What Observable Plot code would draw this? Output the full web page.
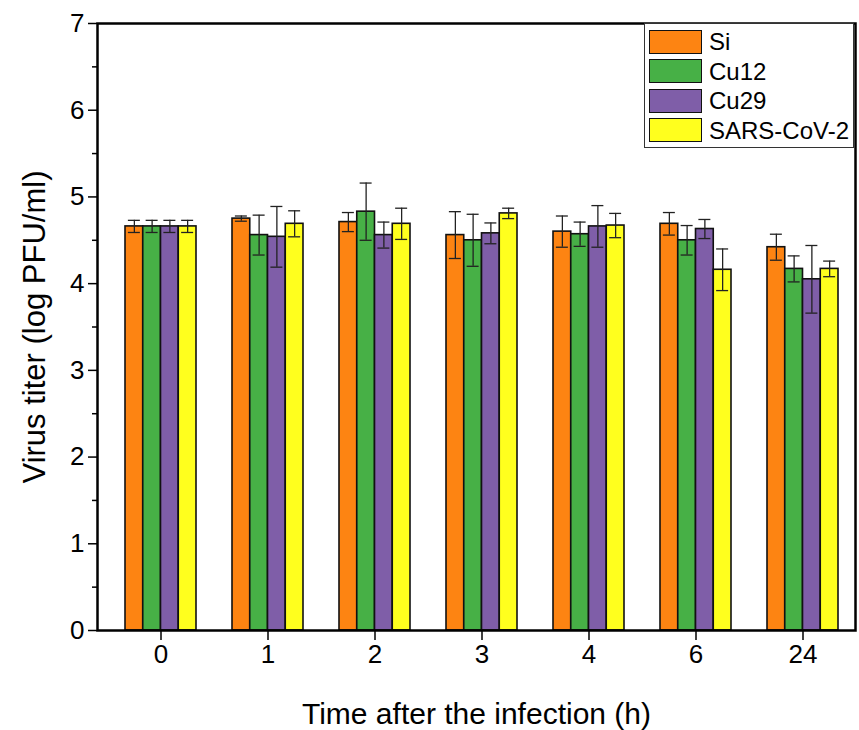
<!DOCTYPE html>
<html>
<head>
<meta charset="utf-8">
<script src="https://cdn.jsdelivr.net/npm/d3@7"></script>
<script src="https://cdn.jsdelivr.net/npm/@observablehq/plot@0.6"></script>
<style>
  html, body { margin: 0; padding: 0; background: #fff; }
  #wrap { position: relative; width: 859px; height: 730px; font-family: "Liberation Sans", Arial, sans-serif; }
  #legend { position: absolute; left: 644px; top: 23px; width: 210px; height: 125px; border: 1px solid #333; background: #fff; box-sizing: border-box; }
  .row { position: absolute; left: 4px; height: 25px; display: flex; align-items: center; }
  .sw { width: 53px; height: 24px; border: 1.5px solid #111; box-sizing: border-box; margin-right: 7px; }
  .lbl { font-size: 24px; color: #000; line-height: 25px; }
</style>
</head>
<body>
<div id="wrap"></div>
<script>
const times = ["0", "1", "2", "3", "4", "6", "24"];
const seriesNames = ["Si", "Cu12", "Cu29", "SARS-CoV-2"];
const seriesColors = ["#fd8412", "#47b046", "#7f5ea8", "#ffff1e"];

const siValues   = [4.66, 4.75, 4.71, 4.56, 4.60, 4.69, 4.42];
const cu12Values = [4.66, 4.56, 4.83, 4.50, 4.57, 4.50, 4.17];
const cu29Values = [4.66, 4.54, 4.56, 4.58, 4.66, 4.63, 4.05];
const sarsValues = [4.66, 4.69, 4.69, 4.81, 4.67, 4.16, 4.17];

const siErrors   = [0.07, 0.03, 0.11, 0.27, 0.18, 0.13, 0.15];
const cu12Errors = [0.07, 0.23, 0.33, 0.30, 0.14, 0.17, 0.15];
const cu29Errors = [0.07, 0.35, 0.15, 0.12, 0.24, 0.11, 0.39];
const sarsErrors = [0.07, 0.15, 0.18, 0.06, 0.14, 0.24, 0.09];

const yTicks = [0, 1, 2, 3, 4, 5, 6, 7];
const yMinorTicks = [0.5, 1.5, 2.5, 3.5, 4.5, 5.5, 6.5];

const allValues = [siValues, cu12Values, cu29Values, sarsValues];
const allErrors = [siErrors, cu12Errors, cu29Errors, sarsErrors];

const W = 859, H = 730;
const mL = 97, mR = 4, mT = 23, mB = 100;
const padIn = 0.34, padOut = 0.193;
const step = (W - mL - mR) / (times.length - padIn + 2 * padOut);
const bw = step * (1 - padIn);
const w = bw / seriesNames.length;
const capW = 12;

const marks = [];
seriesNames.forEach((name, i) => {
  const rows = times.map((t, k) => ({time: t, value: allValues[i][k], err: allErrors[i][k]}));
  marks.push(Plot.barY(rows, {
    x: "time", y: "value", fill: seriesColors[i], stroke: "#111", strokeWidth: 1.6,
    insetLeft: i * w, insetRight: (seriesNames.length - 1 - i) * w
  }));
});
seriesNames.forEach((name, i) => {
  const rows = times.map((t, k) => ({time: t, value: allValues[i][k], err: allErrors[i][k]}));
  const capInL = i * w + (w - capW) / 2, capInR = (seriesNames.length - 1 - i) * w + (w - capW) / 2;
  marks.push(Plot.ruleX(rows, {
    x: "time", y1: d => d.value - d.err, y2: d => d.value + d.err,
    dx: (i - 1.5) * w, stroke: "#222", strokeWidth: 1.3
  }));
  marks.push(Plot.tickY(rows, {
    x: "time", y: d => d.value + d.err, stroke: "#222", strokeWidth: 1.3,
    insetLeft: capInL, insetRight: capInR
  }));
  marks.push(Plot.tickY(rows, {
    x: "time", y: d => d.value - d.err, stroke: "#222", strokeWidth: 1.3,
    insetLeft: capInL, insetRight: capInR
  }));
});

marks.push(Plot.axisY(yTicks, {tickSize: 9, tickPadding: 4, fontSize: 26, tickFormat: d3.format("d"), label: null, stroke: "#000", strokeWidth: 1.5}));
marks.push(Plot.axisY(yMinorTicks, {tickSize: 5, tickFormat: () => "", label: null, stroke: "#000", strokeWidth: 1.5}));
marks.push(Plot.axisX({tickSize: 10, tickPadding: 4, fontSize: 26, label: null, stroke: "#000", strokeWidth: 1.5}));
marks.push(Plot.frame({stroke: "#000", strokeWidth: 2.5}));
marks.push(Plot.text(["Time after the infection (h)"], {
  frameAnchor: "bottom", dy: 84, fontSize: 30, textAnchor: "middle", lineAnchor: "middle", fill: "#000"
}));
marks.push(Plot.text(["Virus titer (log PFU/ml)"], {
  frameAnchor: "left", dx: -62, rotate: -90, fontSize: 31, textAnchor: "middle", lineAnchor: "middle", fill: "#000"
}));

const chart = Plot.plot({
  width: W, height: H,
  marginLeft: mL, marginRight: mR, marginTop: mT, marginBottom: mB,
  style: {fontFamily: "Liberation Sans, Arial, sans-serif", fontSize: "24px", color: "#000", background: "#fff"},
  x: {type: "band", domain: times, paddingInner: padIn, paddingOuter: padOut, align: 0.62, axis: null},
  y: {domain: [0, 7], axis: null},
  marks
});

const wrap = document.getElementById("wrap");
wrap.appendChild(chart);

const legend = document.createElement("div");
legend.id = "legend";
seriesNames.forEach((name, i) => {
  const row = document.createElement("div");
  row.className = "row";
  row.style.top = (5 + i * 29.5) + "px";
  const sw = document.createElement("div");
  sw.className = "sw";
  sw.style.background = seriesColors[i];
  const lbl = document.createElement("span");
  lbl.className = "lbl";
  lbl.textContent = name;
  row.appendChild(sw);
  row.appendChild(lbl);
  legend.appendChild(row);
});
wrap.appendChild(legend);
</script>
</body>
</html>
